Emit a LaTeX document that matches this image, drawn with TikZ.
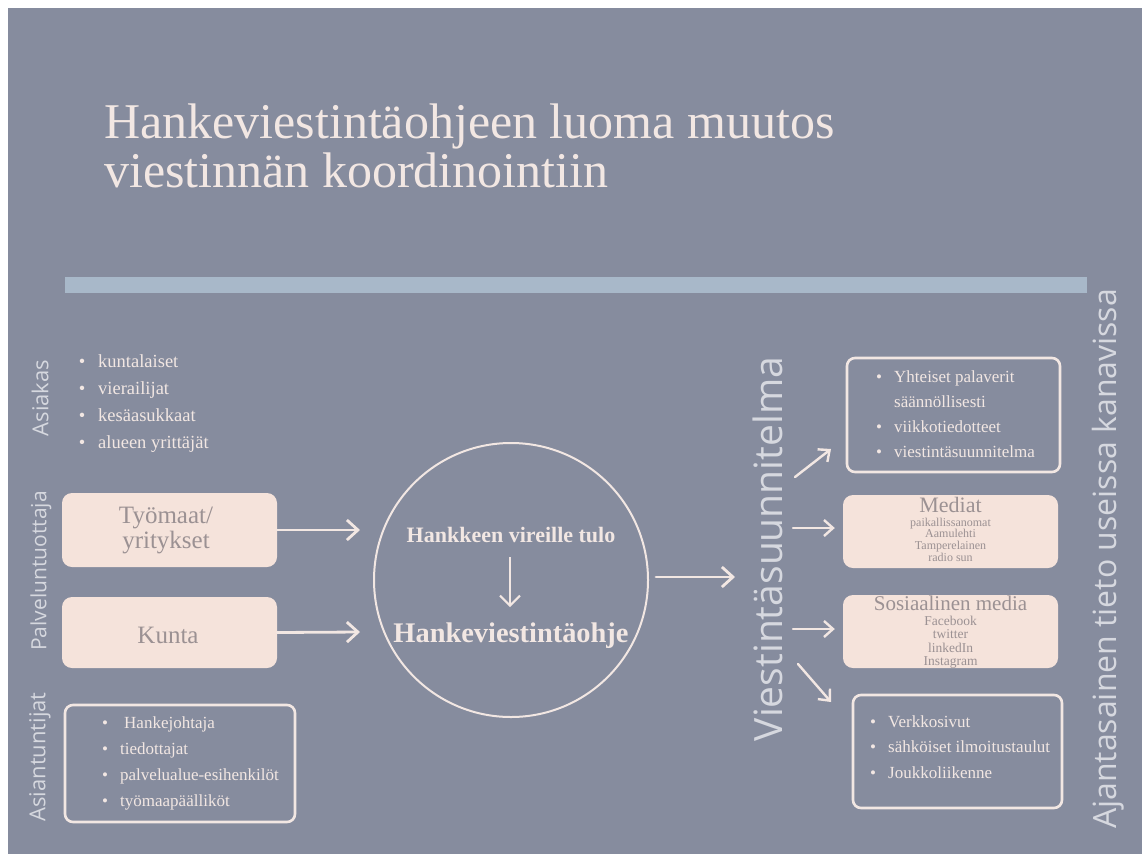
\documentclass[tikz,border=0pt]{standalone}
\usepackage{fontspec}
\setmainfont{Liberation Serif}
\newfontfamily\lblfont{Open Sans}
\usetikzlibrary{arrows.meta}
\definecolor{bg}{HTML}{868C9E}
\definecolor{barc}{HTML}{A8B8C9}
\definecolor{cream}{HTML}{F2E7E3}
\definecolor{pinkf}{HTML}{F5E3DB}
\definecolor{pinkt}{HTML}{9B9193}
\definecolor{lblc}{HTML}{D6D8DF}
\newcommand\fsz[1]{\fontsize{#1}{#1}\selectfont}
\begin{document}
\begin{tikzpicture}[x=1pt,y=-1pt,
  lbl/.style={rotate=90, font=\lblfont, text=lblc, inner sep=0},
  itm/.style={anchor=base west, inner sep=0, text=cream},
  bul/.style={anchor=base, inner sep=0, text=cream},
  pbox/.style={fill=pinkf, rounded corners=10pt, minimum width=215pt, inner sep=0},
  obox/.style={draw=cream, line width=2.6pt, rounded corners=8pt, inner sep=0},
  ptxt/.style={text=pinkt, inner sep=0, anchor=base},
  ctxt/.style={text=cream, inner sep=0, anchor=base, font=\bfseries},
  arr/.style={draw=cream, line width=2.8pt, line cap=round, -{Straight Barb[length=11pt,width=20pt]}},
  sarr/.style={draw=cream, line width=2.4pt, line cap=round, -{Straight Barb[length=9pt,width=16pt]}}
]
\useasboundingbox (0,0) rectangle (1142,854);
\fill[white] (0,0) rectangle (1142,854);
\fill[bg] (8,8) rectangle (1142,854);
\fill[barc] (65,277) rectangle (1087,293);

% title
\node[anchor=base west, inner sep=0, text=cream, font=\fsz{50}] (t1) at (104,138) {Hankeviestintäohjeen luoma muutos};
\node[anchor=base west, inner sep=0, text=cream, font=\fsz{50}] (t2) at (104,187) {viestinnän koordinointiin};

% side labels
\node[lbl, font=\lblfont\fsz{22}] (lasiakas) at (40,398) {Asiakas};
\node[lbl, font=\lblfont\fsz{21}] (lpalv) at (41,571) {Palveluntuottaja};
\node[lbl, font=\lblfont\fsz{22}] (lasiant) at (40,757) {Asiantuntijat};
\node[lbl, font=\lblfont\fsz{39}] (lviest) at (768,549) {Viestintäsuunnitelma};
\node[lbl, font=\lblfont\fsz{32}] (lajan) at (1108,559) {Ajantasainen tieto useissa kanavissa};

% Asiakas list
\foreach \t [count=\i] in {kuntalaiset, vierailijat, kesäasukkaat, alueen yrittäjät} {
  \node[bul, font=\fsz{18.5}] (ab\i) at (82, 367+27.3*\i-27.3) {\textbullet};
  \node[itm, font=\fsz{18.5}] (ai\i) at (98, 367+27.3*\i-27.3) {\t};
}

% provider boxes
\node[pbox, minimum height=74pt] (tyo) at (169.5,530) {};
\node[ptxt, font=\fsz{25}] (tyo1) at (166,523) {Työmaat/};
\node[ptxt, font=\fsz{25}] (tyo2) at (166,548) {yritykset};
\node[pbox, minimum height=71pt] (kunta) at (169.5,632.5) {};
\node[ptxt, font=\fsz{25}] (kuntat) at (168,643) {Kunta};

% central circle
\node[circle, draw=cream, line width=2pt, minimum size=274pt, inner sep=0] (circ) at (511,580) {};
\node[ctxt, font=\bfseries\fsz{22}] (vir) at (511,542) {Hankkeen vireille tulo};
\node[ctxt, font=\bfseries\fsz{28.4}] (hvo) at (511,642) {Hankeviestintäohje};
\coordinate (d1) at (510,557);
\coordinate (d2) at (510,607);
\draw[draw=cream, line width=2pt, -{Straight Barb[length=10pt,width=20pt]}] (d1) -- (d2);

\coordinate (e1) at (360,530);
\coordinate (e2) at (360,632);
\draw[arr] (tyo.east) -- (e1);
\draw[arr] (kunta.east) -- (e2);
\coordinate (e3) at (735,577);
\draw[arr, shorten <=7pt] (circ.east |- e3) -- (e3);

% Asiantuntijat box
\node[obox, minimum width=230pt, minimum height=117pt] (asbox) at (180,763.5) {};
\foreach \t/\xx [count=\i] in {Hankejohtaja/124, tiedottajat/120, palvelualue-esihenkilöt/120, työmaapäälliköt/120} {
  \node[bul, font=\fsz{17}] (sb\i) at (105, 728+26*\i-26) {\textbullet};
  \node[itm, font=\fsz{17}] (si\i) at (\xx, 728+26*\i-26) {\t};
}

% right boxes
\node[obox, minimum width=213pt, minimum height=114pt] (boxa) at (953.5,415) {};
\node[bul, font=\fsz{17}] (ya1) at (879,382) {\textbullet};
\node[itm, font=\fsz{17}] (yi1) at (894,382) {Yhteiset palaverit};
\node[itm, font=\fsz{17}] (yi2) at (894,407) {säännöllisesti};
\node[bul, font=\fsz{17}] (ya3) at (879,432) {\textbullet};
\node[itm, font=\fsz{17}] (yi3) at (894,432) {viikkotiedotteet};
\node[bul, font=\fsz{17}] (ya4) at (879,457) {\textbullet};
\node[itm, font=\fsz{17}] (yi4) at (894,457) {viestintäsuunnitelma};

\node[pbox, minimum height=73pt] (boxb) at (950.5,531.5) {};
\node[ptxt, font=\fsz{22}] (med) at (950.5,512) {Mediat};
\foreach \t [count=\i] in {paikallissanomat, Aamulehti, Tamperelainen, radio sun} {
  \node[ptxt, font=\fsz{12}] (mi\i) at (950.5, 526+11.7*\i-11.7) {\t};
}

\node[pbox, minimum height=73pt] (boxc) at (950.5,631.5) {};
\node[ptxt, font=\fsz{21}] (som) at (950.5,610) {Sosiaalinen media};
\foreach \t [count=\i] in {Facebook, twitter, linkedIn, Instagram} {
  \node[ptxt, font=\fsz{13.5}] (so\i) at (950.5, 625.5+13.4*\i-13.4) {\t};
}

\node[obox, minimum width=209pt, minimum height=113pt] (boxd) at (957.5,751.5) {};
\foreach \t [count=\i] in {Verkkosivut, sähköiset ilmoitustaulut, Joukkoliikenne} {
  \node[bul, font=\fsz{17}] (db\i) at (873, 727+25.5*\i-25.5) {\textbullet};
  \node[itm, font=\fsz{17}] (di\i) at (888, 727+25.5*\i-25.5) {\t};
}

% right arrows
\coordinate (r1s) at (795,477); \coordinate (r1e) at (831,449);
\coordinate (r2s) at (793,528);
\coordinate (r3s) at (793,629);
\coordinate (r4s) at (798,664); \coordinate (r4e) at (831,702);
\draw[sarr] (r1s) -- (r1e);
\draw[sarr, shorten >=8pt] (r2s) -- (r2s -| boxb.west);
\draw[sarr, shorten >=8pt] (r3s) -- (r3s -| boxc.west);
\draw[sarr] (r4s) -- (r4e);
\end{tikzpicture}
\end{document}
